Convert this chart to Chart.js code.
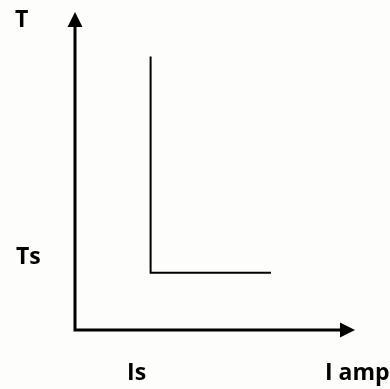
<!DOCTYPE html>
<html>
<head>
<meta charset="utf-8">
<script src="https://cdn.jsdelivr.net/npm/chart.js@4"></script>
<style>
    html, body { margin: 0; padding: 0; background: #fdfdfb; }
    #wrap { width: 390px; height: 389px; position: relative; }
</style>
</head>
<body>
<div id="wrap"><canvas id="curve"></canvas></div>
<script>
// characteristic: current I (x) vs time T (y), both in % of axis length
const curveI = [27, 27, 70];
const curveT = [86, 18, 18];

// hand placed axis labels
const xTickValues = [22];
const xTickLabels = ['Is'];
const yTickValues = [23.4];
const yTickLabels = ['Ts'];
const xTitle = 'I amp';
const yTitle = 'T';

const labelFont = 'bold 23px "Open Sans", "Liberation Sans", sans-serif';

const axesPlugin = {
    id: 'axesArrows',
    afterDatasetsDraw(chart) {
        const ctx = chart.ctx;
        const x = chart.scales.x;
        const y = chart.scales.y;
        const x0 = x.getPixelForValue(0);
        const x1 = x.getPixelForValue(100);
        const y0 = y.getPixelForValue(0);
        const y1 = y.getPixelForValue(100);

        ctx.save();
        ctx.strokeStyle = '#000';
        ctx.fillStyle = '#000';
        ctx.lineWidth = 3;

        ctx.beginPath();
        ctx.moveTo(x0, y1 + 10);
        ctx.lineTo(x0, y0);
        ctx.lineTo(x1 - 10, y0);
        ctx.stroke();

        // arrow heads
        ctx.beginPath();
        ctx.moveTo(x0, y1);
        ctx.lineTo(x0 - 7.5, y1 + 15);
        ctx.lineTo(x0 + 7.5, y1 + 15);
        ctx.closePath();
        ctx.fill();

        ctx.beginPath();
        ctx.moveTo(x1, y0);
        ctx.lineTo(x1 - 15, y0 - 7.5);
        ctx.lineTo(x1 - 15, y0 + 7.5);
        ctx.closePath();
        ctx.fill();

        ctx.font = labelFont;
        ctx.textBaseline = 'alphabetic';
        ctx.textAlign = 'center';
        xTickValues.forEach((v, i) => {
            ctx.fillText(xTickLabels[i], x.getPixelForValue(v), y0 + 50);
        });
        ctx.textAlign = 'left';
        yTickValues.forEach((v, i) => {
            ctx.fillText(yTickLabels[i], x0 - 59, y.getPixelForValue(v) + 8.5);
        });
        ctx.fillText(xTitle, x1 - 30, y0 + 50);
        ctx.fillText(yTitle, x0 - 60, y1 + 15);
        ctx.restore();
    }
};

new Chart(document.getElementById('curve'), {
    type: 'scatter',
    data: {
        datasets: [{
            data: curveI.map((v, i) => ({ x: v, y: curveT[i] })),
            showLine: true,
            borderColor: '#000',
            borderWidth: 2,
            pointRadius: 0,
            tension: 0
        }]
    },
    options: {
        responsive: true,
        maintainAspectRatio: false,
        animation: false,
        layout: { padding: { left: 75, right: 35, top: 12, bottom: 59 } },
        plugins: { legend: { display: false }, tooltip: { enabled: false } },
        scales: {
            x: { type: 'linear', min: 0, max: 100, display: false },
            y: { type: 'linear', min: 0, max: 100, display: false }
        }
    },
    plugins: [axesPlugin]
});
</script>
</body>
</html>
